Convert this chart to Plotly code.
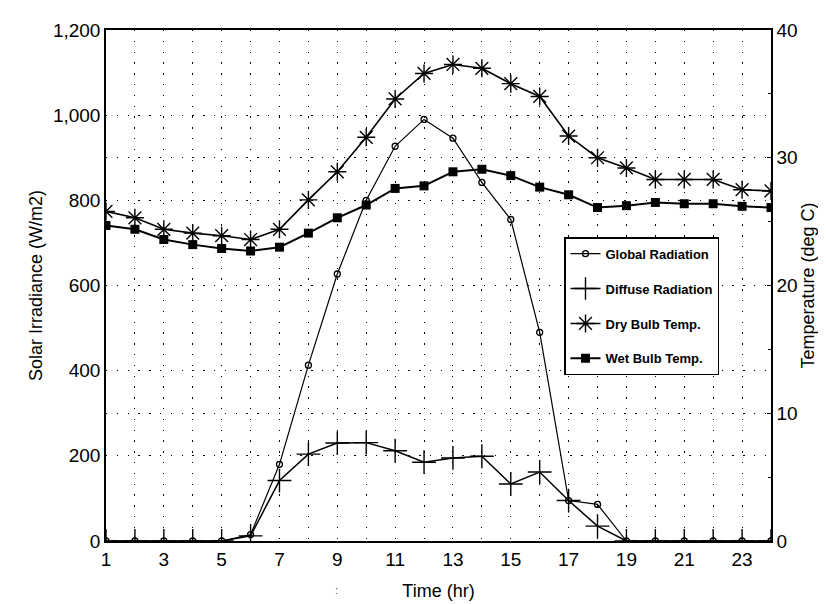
import plotly.graph_objects as go

hours = list(range(1, 25))
x_tick_vals = list(range(1, 25))
x_tick_text = [str(h) if h % 2 == 1 else "" for h in hours]

global_rad = [0, 0, 0, 0, 0, 15, 180, 413, 627, 800, 927, 990, 946, 842, 755, 490, 95, 86, 0, 0, 0, 0, 0, 0]
diffuse_rad = [0, 0, 0, 0, 0, 12, 142, 204, 230, 231, 212, 185, 195, 199, 134, 162, 95, 35, 0, 0, 0, 0, 0, 0]
dry_bulb = [25.8, 25.3, 24.4, 24.1, 23.9, 23.6, 24.4, 26.7, 28.9, 31.6, 34.6, 36.6, 37.3, 37.0, 35.8, 34.8,
            31.7, 30.0, 29.2, 28.3, 28.3, 28.3, 27.5, 27.4]
wet_bulb = [24.7, 24.4, 23.6, 23.2, 22.9, 22.7, 23.0, 24.1, 25.3, 26.3, 27.6, 27.8, 28.9, 29.1, 28.6, 27.7,
            27.1, 26.1, 26.25, 26.5, 26.4, 26.4, 26.2, 26.1]

left_ticks = [0, 200, 400, 600, 800, 1000, 1200]
left_tick_text = ["0", "200", "400", "600", "800", "1,000", "1,200"]
right_ticks = [0, 10, 20, 30, 40]

FONT = "Liberation Sans, Arial, sans-serif"

fig = go.Figure()
fig.add_trace(go.Scatter(
    x=hours, y=global_rad, name="Global Radiation", mode="lines+markers",
    line=dict(color="black", width=1.2),
    marker=dict(symbol="circle-open", size=6, color="black", line=dict(width=1.3)),
    legendgroup="g1", yaxis="y"))
fig.add_trace(go.Scatter(
    x=hours, y=diffuse_rad, name="Diffuse Radiation", mode="lines+markers",
    line=dict(color="black", width=1.5),
    marker=dict(symbol="cross-thin-open", size=17, color="black", line=dict(width=1.4, color="black")),
    legendgroup="g2", yaxis="y"))
fig.add_trace(go.Scatter(
    x=hours, y=dry_bulb, name="Dry Bulb Temp.", mode="lines+markers",
    line=dict(color="black", width=1.6),
    marker=dict(symbol="asterisk-open", size=15, color="black", line=dict(width=1.4, color="black")),
    legendgroup="g3", yaxis="y2"))
fig.add_trace(go.Scatter(
    x=hours, y=wet_bulb, name="Wet Bulb Temp.", mode="lines+markers",
    line=dict(color="black", width=2),
    marker=dict(symbol="square", size=9, color="black"),
    legendgroup="g4", yaxis="y2"))

fig.update_layout(
    width=826, height=604,
    margin=dict(l=98, r=63, t=20, b=71),
    paper_bgcolor="white", plot_bgcolor="white",
    font=dict(family=FONT, size=18, color="black"),
    showlegend=True,
    legend=dict(
        x=(556 - 98) / 665, y=(533 - 228) / 513, xanchor="left", yanchor="top",
        bgcolor="white", bordercolor="black", borderwidth=1.5,
        font=dict(family=FONT, size=13, color="black", weight="bold"),
        traceorder="grouped", tracegroupgap=15,
        itemwidth=30, entrywidth=165, entrywidthmode="pixels",
    ),
    xaxis=dict(
        range=[1, 24], tickmode="array", tickvals=x_tick_vals, ticktext=x_tick_text,
        showgrid=True, gridcolor="black", gridwidth=1.3, griddash="1.3px,9.5px",
        showline=True, linecolor="black", linewidth=1.5, mirror=True,
        ticks="", zeroline=False,
        tickfont=dict(family=FONT, size=19),
        title=dict(text="Time (hr)", font=dict(family=FONT, size=18), standoff=16),
    ),
    yaxis=dict(
        range=[0, 1200], tickmode="array", tickvals=left_ticks, ticktext=left_tick_text,
        showgrid=True, gridcolor="black", gridwidth=1.3, griddash="1.3px,9.5px",
        showline=True, linecolor="black", linewidth=1.5,
        ticks="", zeroline=False,
        tickfont=dict(family=FONT, size=19),
        title=dict(text="Solar Irradiance (W/m2)", font=dict(family=FONT, size=18), standoff=6),
    ),
    yaxis2=dict(
        range=[0, 40], tickmode="array", tickvals=right_ticks,
        overlaying="y", side="right",
        showgrid=True, gridcolor="black", gridwidth=1.3, griddash="1.3px,9.5px",
        showline=True, linecolor="black", linewidth=1.5,
        ticks="inside", ticklen=4, tickcolor="black",
        minor=dict(dtick=5, ticks="inside", ticklen=3, tickcolor="black", showgrid=False),
        zeroline=False,
        tickfont=dict(family=FONT, size=19),
        title=dict(text="Temperature (deg C)", font=dict(family=FONT, size=18), standoff=4),
    ),
)

fig.add_annotation(text=":", xref="x domain", yref="y domain",
                   x=(328 - 98) / 665, y=(533 - 590) / 513, showarrow=False,
                   font=dict(size=11, color="#444"))

fig.write_html("out.html")
